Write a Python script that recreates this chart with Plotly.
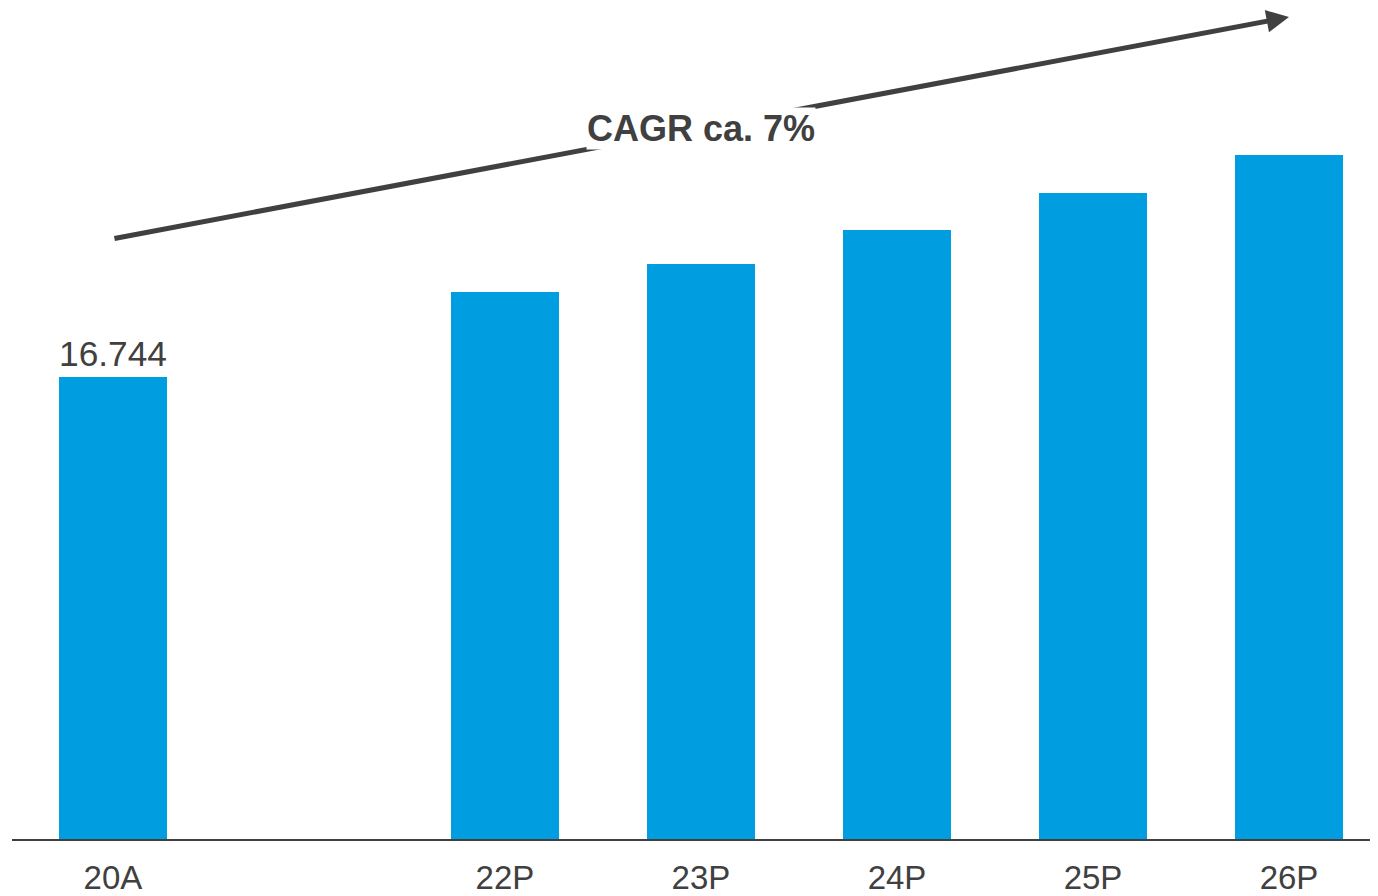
import plotly.graph_objects as go

categories = ["20A", "21", "22P", "23P", "24P", "25P", "26P"]
positions = [0, 1, 2, 3, 4, 5, 6]
bar_cats = ["20A", "22P", "23P", "24P", "25P", "26P"]
bar_pos = [0, 2, 3, 4, 5, 6]
values = [16744, 19820, 20820, 22060, 23380, 24790]
labels = ["16.744", "", "", "", "", ""]
tick_labels = ["20A", "22P", "23P", "24P", "25P", "26P"]
cagr_text = "CAGR ca. 7%"
arrow_start = (0, 21740)
arrow_end = (6, 29770)

BLUE = "#009EE0"
DARK = "#404040"

fig = go.Figure()
fig.add_trace(go.Bar(
    x=bar_pos, y=values, width=0.551,
    marker=dict(color=BLUE, line=dict(width=0)),
    text=labels, textposition="outside",
    textfont=dict(family="Liberation Sans, Arial, sans-serif", size=36, color=DARK),
    cliponaxis=False, hoverinfo="skip",
))

fig.add_annotation(
    x=arrow_end[0], y=arrow_end[1], ax=arrow_start[0], ay=arrow_start[1],
    xref="x", yref="y", axref="x", ayref="y",
    text="", showarrow=True, arrowhead=2, arrowsize=0.9, arrowwidth=5,
    arrowcolor=DARK, standoff=0, startstandoff=0,
)
fig.add_annotation(
    x=3.0, y=25729, xref="x", yref="y", text="<b>" + cagr_text + "</b>",
    showarrow=False, bgcolor="white", borderpad=0,
    font=dict(family="Liberation Sans, Arial, sans-serif", size=36, color=DARK),
)

fig.update_layout(
    width=1370, height=888,
    margin=dict(l=4, r=0, t=0, b=54),
    paper_bgcolor="white", plot_bgcolor="white",
    showlegend=False, separators=",.",
    bargap=0,
)
fig.update_xaxes(
    range=[-0.515, 6.454], tickvals=bar_pos, ticktext=tick_labels,
    showgrid=False, zeroline=False, showline=True, linecolor=DARK, linewidth=2,
    ticks="", ticklabelstandoff=8,
    tickfont=dict(family="Liberation Sans, Arial, sans-serif", size=33, color=DARK),
)
fig.update_yaxes(
    range=[0, 30096], visible=False, showgrid=False, zeroline=False,
)

fig.write_html("out.html")
